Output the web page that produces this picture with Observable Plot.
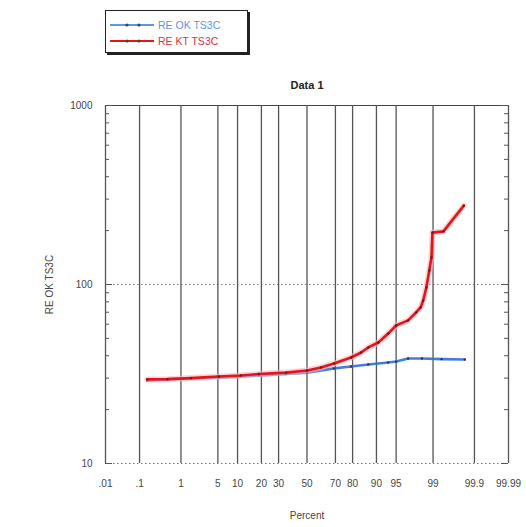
<!DOCTYPE html>
<html>
<head>
<meta charset="utf-8">
<script src="https://cdn.jsdelivr.net/npm/d3@7"></script>
<script src="https://cdn.jsdelivr.net/npm/@observablehq/plot@0.6"></script>
<style>
  body { margin: 0; background: #fff; font-family: Arial, "Liberation Sans", sans-serif; }
  #wrap { position: relative; width: 526px; height: 527px; }
  #legend {
    position: absolute; left: 105px; top: 10px; width: 141px; height: 41px;
    border: 1px solid #222; box-shadow: 2px 2px 0 #222; background: #fff;
    font-size: 10.5px; line-height: 16px;
  }
  #legend .row { position: absolute; left: 3px; display: flex; align-items: center; }
  #legend svg { margin-right: 3px; }
</style>
</head>
<body>
<div id="wrap">
  <div id="legend"></div>
</div>
<script>
// Probability-axis tick positions (percent) and their printed labels
const percentTicks = [0.01, 0.1, 1, 5, 10, 20, 30, 50, 70, 80, 90, 95, 99, 99.9, 99.99];
const percentLabels = [".01", ".1", "1", "5", "10", "20", "30", "50", "70", "80", "90", "95", "99", "99.9", "99.99"];

// Log axis ticks
const yMajor = [10, 100, 1000];
const yMinor = [20, 30, 40, 50, 60, 70, 80, 90, 200, 300, 400, 500, 600, 700, 800, 900];

// Series names and colours
const seriesNames = ["RE OK TS3C", "RE KT TS3C"];
const seriesColors = ["#2f6fdc", "#e3141c"];

// RE OK TS3C: cumulative percent vs value
const okPercent = [0.16, 0.5, 1.6, 5.2, 18.7, 34.9, 50, 69.1, 79.2, 87.1, 93.3, 95.0, 96.9, 98.3, 99.35, 99.82];
const okValues  = [29.1, 29.5, 29.9, 30.2, 31.0, 31.6, 32.2, 34.0, 34.8, 35.7, 36.7, 37.1, 38.6, 38.6, 38.3, 38.1];

// RE KT TS3C: cumulative percent vs value
const ktPercent = [0.16, 0.5, 1.6, 5.2, 11.1, 18.7, 34.9, 50, 60.2, 69.1, 79.2, 84.1, 87.1, 90.6, 93.3, 95.0, 96.9, 97.8, 98.2, 98.4, 98.62, 98.8, 98.92, 98.97, 99.41, 99.81];
const ktValues  = [29.5, 29.6, 30.0, 30.6, 31.0, 31.6, 32.2, 33.1, 34.4, 36.2, 39.1, 41.7, 44.5, 47.4, 53.2, 59.0, 63.0, 69.8, 74.4, 81.4, 96.2, 119.7, 141.5, 195, 198, 276];

// Inverse standard normal CDF (Acklam's rational approximation)
function probit(p) {
  const a = [-3.969683028665376e+01, 2.209460984245205e+02, -2.759285104469687e+02, 1.383577518672690e+02, -3.066479806614716e+01, 2.506628277459239e+00];
  const b = [-5.447609879822406e+01, 1.615858368580409e+02, -1.556989798598866e+02, 6.680131188771972e+01, -1.328068155288572e+01];
  const c = [-7.784894002430293e-03, -3.223964580411365e-01, -2.400758277161838e+00, -2.549671010115603e+00, 4.374664141464968e+00, 2.938163982698783e+00];
  const d = [7.784695709041462e-03, 3.224671290700398e-01, 2.445134137142996e+00, 3.754408661907416e+00];
  const pl = 0.02425, ph = 1 - pl;
  let q, r;
  if (p < pl) {
    q = Math.sqrt(-2 * Math.log(p));
    return (((((c[0]*q+c[1])*q+c[2])*q+c[3])*q+c[4])*q+c[5]) / ((((d[0]*q+d[1])*q+d[2])*q+d[3])*q+1);
  }
  if (p <= ph) {
    q = p - 0.5; r = q * q;
    return (((((a[0]*r+a[1])*r+a[2])*r+a[3])*r+a[4])*r+a[5])*q / (((((b[0]*r+b[1])*r+b[2])*r+b[3])*r+b[4])*r+1);
  }
  q = Math.sqrt(-2 * Math.log(1 - p));
  return -(((((c[0]*q+c[1])*q+c[2])*q+c[3])*q+c[4])*q+c[5]) / ((((d[0]*q+d[1])*q+d[2])*q+d[3])*q+1);
}
const z = (pct) => probit(pct / 100);

const ok = okPercent.map((p, i) => ({p, v: okValues[i]}));
const kt = ktPercent.map((p, i) => ({p, v: ktValues[i]}));
const tickZ = percentTicks.map(z);
const zMin = tickZ[0], zMax = tickZ[tickZ.length - 1];

const chart = Plot.plot({
  width: 526,
  height: 527,
  marginLeft: 105,
  marginRight: 18,
  marginTop: 105,
  marginBottom: 64,
  style: { fontFamily: "Arial, 'Liberation Sans', sans-serif", fontSize: "10px", color: "#444", background: "#fff" },
  x: { type: "linear", domain: [zMin, zMax] },
  y: { type: "log", domain: [10, 1000] },
  marks: [
    // dotted horizontal grid at the decades
    Plot.ruleY([10, 100], { stroke: "#777", strokeDasharray: "1.5,2.5", strokeWidth: 1 }),
    // top edge
    Plot.ruleY([1000], { stroke: "#444", strokeWidth: 1.2 }),
    // vertical probability grid and side edges
    Plot.ruleX(percentTicks, { x: (p) => z(p), stroke: "#555", strokeWidth: 1.3 }),
    // minor log ticks inside left and right edges
    Plot.tickY(yMinor, { y: (d) => d, insetRight: 399, stroke: "#555" }),
    Plot.tickY(yMinor, { y: (d) => d, insetLeft: 399, stroke: "#555" }),
    Plot.tickY(yMajor, { y: (d) => d, insetRight: 396, stroke: "#555" }),
    Plot.tickY(yMajor, { y: (d) => d, insetLeft: 396, stroke: "#555" }),
    // series
    Plot.line(ok, { x: (d) => z(d.p), y: "v", stroke: seriesColors[0], strokeWidth: 2.6, strokeOpacity: 0.9 }),
    Plot.dot(ok, { x: (d) => z(d.p), y: "v", r: 1.2, fill: "#334", stroke: null }),
    Plot.line(kt, { x: (d) => z(d.p), y: "v", stroke: "#f7b8bb", strokeWidth: 6, strokeOpacity: 0.6 }),
    Plot.line(kt, { x: (d) => z(d.p), y: "v", stroke: seriesColors[1], strokeWidth: 2.6 }),
    Plot.dot(kt, { x: (d) => z(d.p), y: "v", r: 1.2, fill: "#6a1a1a", stroke: null }),
    // axes
    Plot.axisX({ ticks: tickZ, tickFormat: (d) => percentLabels[tickZ.indexOf(d)], tickSize: 0, tickPadding: 16,
                 label: "Percent", labelAnchor: "center", labelArrow: "none", labelOffset: 55 }),
    Plot.axisY({ ticks: yMajor, tickFormat: (d) => String(d), tickSize: 0, tickPadding: 13,
                 label: "RE OK TS3C", labelAnchor: "center", labelArrow: "none", labelOffset: 60 }),
    // title
    Plot.text(["Data 1"], { frameAnchor: "top", dy: -24, fontWeight: "bold", fontSize: 11, fill: "#222" })
  ]
});
document.getElementById("wrap").appendChild(chart);

// legend
const legend = document.getElementById("legend");
seriesNames.forEach((name, i) => {
  const row = document.createElement("div");
  row.className = "row";
  row.style.top = (i === 0 ? 6 : 22) + "px";
  row.innerHTML = `<svg width="46" height="10"><line x1="1" x2="45" y1="5" y2="5" stroke="${seriesColors[i]}" stroke-width="${i === 0 ? 1.5 : 2}"/>` +
    `<circle cx="18" cy="5" r="1.6" fill="#444"/><circle cx="30" cy="5" r="1.6" fill="#444"/></svg>` +
    `<span style="color:${i === 0 ? '#5f92e6' : '#d8343a'}">${name}</span>`;
  legend.appendChild(row);
});
</script>
</body>
</html>
